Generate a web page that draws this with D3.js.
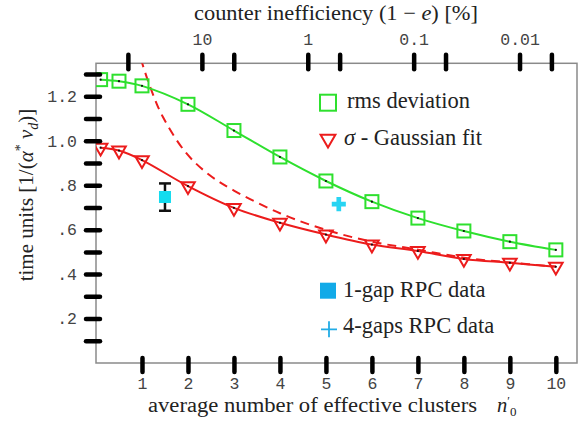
<!DOCTYPE html>
<html>
<head>
<meta charset="utf-8">
<script src="https://cdn.jsdelivr.net/npm/d3@7"></script>
<style>
  body { margin: 0; background: #fff; }
  svg { display: block; }
  .serif { font-family: "Liberation Serif", "DejaVu Serif", serif; fill: #222; }
  .tick text { font-family: "Liberation Mono", "DejaVu Sans Mono", monospace; font-size: 16.5px; fill: #444; }
</style>
</head>
<body>
<svg id="chart" width="581" height="424"></svg>
<script>
// Data
const nPoints = [0.1, 0.5, 1, 2, 3, 4, 5, 6, 7, 8, 9, 10];
const rmsDeviation = [1.275, 1.268, 1.247, 1.164, 1.046, 0.927, 0.819, 0.726, 0.652, 0.594, 0.546, 0.509];
const sigmaGauss = [0.969, 0.956, 0.913, 0.796, 0.698, 0.631, 0.578, 0.533, 0.504, 0.468, 0.451, 0.433];

const dashedN = [0.8, 0.98, 1.2, 1.45, 1.96, 2.46, 3, 4, 5, 6, 7, 8, 9, 10];
const dashedV = [1.5, 1.365, 1.23, 1.109, 0.945, 0.847, 0.776, 0.674, 0.599, 0.546, 0.51, 0.474, 0.452, 0.434];

const oneGap = [1.5, 0.747];          // n0', value
const oneGapError = [0.685, 0.808];   // low, high
const fourGaps = [5.28, 0.715];

const xTicks = [1, 2, 3, 4, 5, 6, 7, 8, 9, 10];
const yTicks = [0.1, 0.2, 0.3, 0.4, 0.5, 0.6, 0.7, 0.8, 0.9, 1.0, 1.1, 1.2, 1.3];
const yLabels = { 0.2: ".2", 0.4: ".4", 0.6: ".6", 0.8: ".8", 1: "1.0", 1.2: "1.2" };
const topTicks = [50, 10, 5, 1, 0.5, 0.1, 0.05, 0.01, 0.005];
const topLabels = { 10: "10", 1: "1", 0.1: "0.1", 0.01: "0.01" };

// Layout
const plotLeft = 96, plotRight = 577, plotTop = 63.3, plotBottom = 363;
const nMax = 10.46;
const green = "#2ee02e";
const red = "#ec1c1c";

const svg = d3.select("#chart");

const x = d3.scaleLinear().domain([0, nMax]).range([plotLeft, plotRight]);
const y = d3.scaleLinear().domain([0, 1.3485]).range([plotBottom, plotTop]);
// inefficiency (1-e) = exp(-n0'), in percent
const xTop = d3.scaleLog().domain([100, 100 * Math.exp(-nMax)]).range([plotLeft, plotRight]);

svg.append("clipPath").attr("id", "plot-clip")
  .append("rect")
  .attr("x", plotLeft).attr("y", plotTop)
  .attr("width", plotRight - plotLeft).attr("height", plotBottom - plotTop);

// Frame
svg.append("rect")
  .attr("x", plotLeft).attr("y", plotTop)
  .attr("width", plotRight - plotLeft).attr("height", plotBottom - plotTop)
  .attr("fill", "none").attr("stroke", "#8a8a8a").attr("stroke-width", 1.5);

// Curves
const line = d3.line()
  .x(d => x(d[0]))
  .y(d => y(d[1]))
  .curve(d3.curveCatmullRom.alpha(0.5));

const plot = svg.append("g").attr("clip-path", "url(#plot-clip)");

plot.append("path")
  .datum(d3.zip(dashedN, dashedV))
  .attr("d", line)
  .attr("fill", "none").attr("stroke", red)
  .attr("stroke-width", 2).attr("stroke-dasharray", "9,6");

plot.append("path")
  .datum(d3.zip(nPoints, rmsDeviation))
  .attr("d", line)
  .attr("fill", "none").attr("stroke", green).attr("stroke-width", 2);

plot.append("path")
  .datum(d3.zip(nPoints, sigmaGauss))
  .attr("d", line)
  .attr("fill", "none").attr("stroke", red).attr("stroke-width", 2);

// Markers
const sq = 13;
plot.selectAll(".rms")
  .data(d3.zip(nPoints, rmsDeviation))
  .join("rect")
  .attr("x", d => x(d[0]) - sq / 2)
  .attr("y", d => y(d[1]) - sq / 2)
  .attr("width", sq).attr("height", sq)
  .attr("fill", "none").attr("stroke", green).attr("stroke-width", 2);

const tri = d3.symbol(d3.symbolTriangle, 80);
plot.selectAll(".sig")
  .data(d3.zip(nPoints, sigmaGauss))
  .join("path")
  .attr("d", tri)
  .attr("transform", d => `translate(${x(d[0])},${y(d[1])}) rotate(180)`)
  .attr("fill", "none").attr("stroke", red).attr("stroke-width", 2);

plot.selectAll(".dot")
  .data(d3.zip(nPoints, rmsDeviation).concat(d3.zip(nPoints, sigmaGauss)))
  .join("circle")
  .attr("cx", d => x(d[0])).attr("cy", d => y(d[1]))
  .attr("r", 1.1).attr("fill", "#111");

// 1-gap RPC point with error bar
const eb = svg.append("g").attr("stroke", "#111").attr("stroke-width", 2.5);
eb.append("line")
  .attr("x1", x(oneGap[0])).attr("x2", x(oneGap[0]))
  .attr("y1", y(oneGapError[0])).attr("y2", y(oneGapError[1]));
oneGapError.forEach(v => {
  eb.append("line")
    .attr("x1", x(oneGap[0]) - 6).attr("x2", x(oneGap[0]) + 6)
    .attr("y1", y(v)).attr("y2", y(v));
});
svg.append("rect")
  .attr("x", x(oneGap[0]) - 6).attr("y", y(oneGap[1]) - 6)
  .attr("width", 12).attr("height", 12)
  .attr("fill", "#14dcef");

// 4-gaps RPC point
svg.append("path")
  .attr("d", d3.symbol(d3.symbolCross, 110))
  .attr("transform", `translate(${x(fourGaps[0])},${y(fourGaps[1])})`)
  .attr("fill", "#28d4f2");

// Axes
const leftAxis = svg.append("g")
  .attr("transform", `translate(${plotLeft},0)`)
  .call(d3.axisLeft(y).tickValues(yTicks).tickSize(16).tickPadding(3)
    .tickFormat(d => yLabels[Math.round(d * 10) / 10] || ""));
leftAxis.selectAll(".tick line").attr("x1", 4).attr("x2", -10);

const bottomAxis = svg.append("g")
  .attr("transform", `translate(0,${plotBottom})`)
  .call(d3.axisBottom(x).tickValues(xTicks).tickSize(9).tickPadding(5));
bottomAxis.selectAll(".tick line").attr("y1", -5).attr("y2", 9);

const topAxis = svg.append("g")
  .attr("transform", `translate(0,${plotTop})`)
  .call(d3.axisTop(xTop).tickValues(topTicks).tickSize(8).tickPadding(10)
    .tickFormat(d => topLabels[d] || ""));
topAxis.selectAll(".tick line").attr("y1", 6).attr("y2", -8.5);

[leftAxis, bottomAxis, topAxis].forEach(g => {
  g.select(".domain").remove();
  g.selectAll(".tick line")
    .attr("stroke", "#000").attr("stroke-width", 4.5).attr("stroke-linecap", "round");
});

// Axis titles
svg.append("text").attr("class", "serif")
  .attr("x", 194).attr("y", 20)
  .attr("font-size", 21)
  .attr("textLength", 284).attr("lengthAdjust", "spacingAndGlyphs")
  .call(t => {
    t.append("tspan").text("counter inefficiency (1 − ");
    t.append("tspan").attr("font-style", "italic").text("e");
    t.append("tspan").text(") [%]");
  });

svg.append("text").attr("class", "serif")
  .attr("x", 148).attr("y", 412)
  .attr("font-size", 20.5)
  .attr("textLength", 329).attr("lengthAdjust", "spacingAndGlyphs")
  .text("average number of effective clusters");

svg.append("text").attr("class", "serif")
  .attr("x", 497).attr("y", 412)
  .attr("font-size", 20.5)
  .call(t => {
    t.append("tspan").attr("font-style", "italic").text("n");
    t.append("tspan").attr("font-size", 12).attr("dy", -7).text("′");
    t.append("tspan").attr("font-size", 13).attr("dy", 11).text("0");
  });

svg.append("text").attr("class", "serif")
  .attr("transform", "translate(33,195) rotate(-90)")
  .attr("text-anchor", "middle")
  .attr("font-size", 21)
  .call(t => {
    t.append("tspan").text("time units [1/(");
    t.append("tspan").attr("font-style", "italic").text("α");
    t.append("tspan").attr("font-size", 14).attr("dy", -8).text("*");
    t.append("tspan").attr("dy", 8).attr("font-style", "italic").text(" v");
    t.append("tspan").attr("font-size", 14).attr("dy", 5).attr("font-style", "italic").text("d");
    t.append("tspan").attr("dy", -5).text(")]");
  });

// Legend
const lx = 328, tx = 344;
const legendFont = 22.5;
svg.append("rect")
  .attr("x", lx - 8).attr("y", 102.7 - 8).attr("width", 16).attr("height", 16)
  .attr("fill", "none").attr("stroke", green).attr("stroke-width", 2);
svg.append("text").attr("class", "serif").attr("font-size", legendFont)
  .attr("x", tx + 3).attr("y", 108).text("rms deviation");

svg.append("path")
  .attr("d", d3.symbol(d3.symbolTriangle, 95))
  .attr("transform", `translate(${lx},139) rotate(180)`)
  .attr("fill", "none").attr("stroke", red).attr("stroke-width", 2);
svg.append("text").attr("class", "serif").attr("font-size", legendFont)
  .attr("x", tx).attr("y", 145)
  .call(t => {
    t.append("tspan").attr("font-style", "italic").text("σ");
    t.append("tspan").text(" - Gaussian fit");
  });

svg.append("rect")
  .attr("x", lx - 8).attr("y", 290.7 - 8).attr("width", 16).attr("height", 16)
  .attr("fill", "#12aae8");
svg.append("text").attr("class", "serif").attr("font-size", legendFont)
  .attr("x", tx - 1).attr("y", 297).text("1-gap RPC data");

svg.append("path")
  .attr("d", "M-8,0H8M0,-8V8")
  .attr("transform", `translate(${lx + 1},329.3)`)
  .attr("stroke", "#22ace6").attr("stroke-width", 1.8);
svg.append("text").attr("class", "serif").attr("font-size", legendFont)
  .attr("x", tx - 1).attr("y", 333).text("4-gaps RPC data");
</script>
</body>
</html>
